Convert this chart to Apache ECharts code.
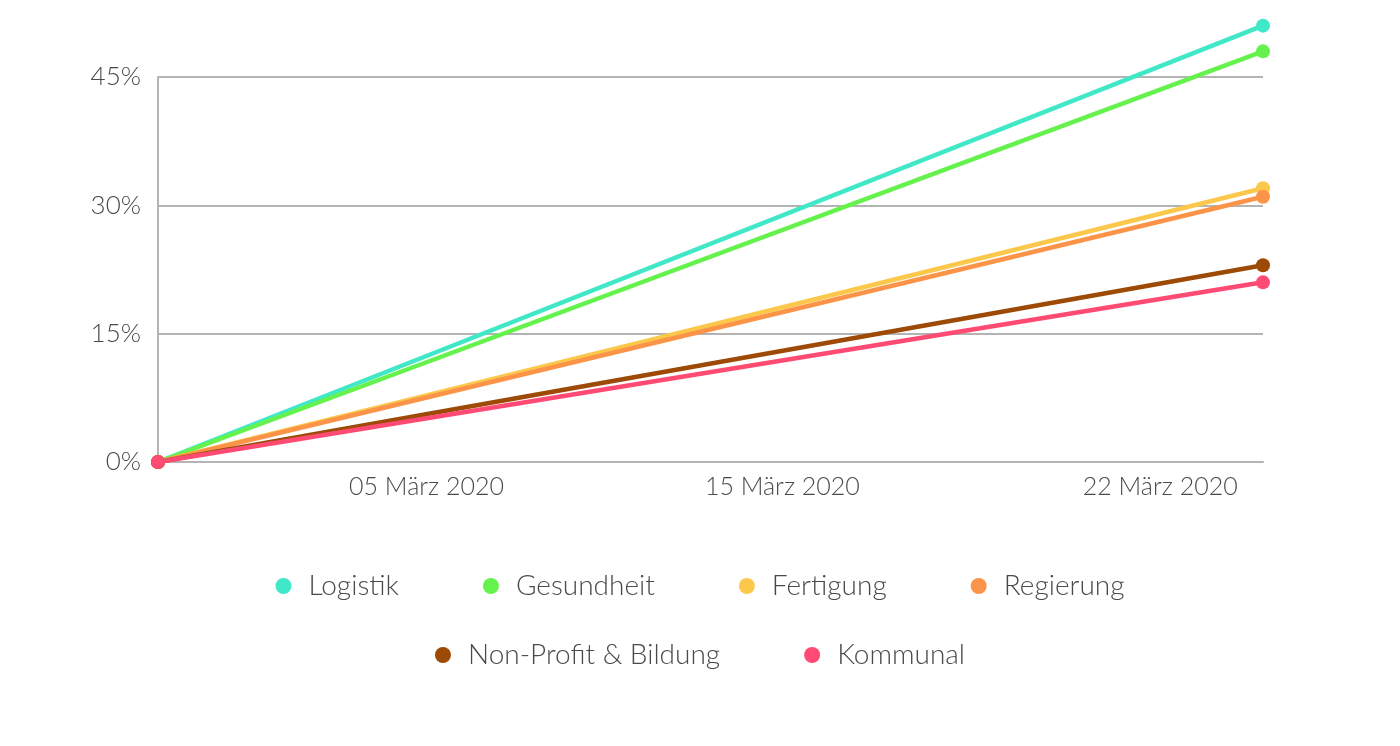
<!DOCTYPE html>
<html>
<head>
<meta charset="utf-8">
<script src="https://cdn.jsdelivr.net/npm/echarts@6/dist/echarts.min.js"></script>
<style>
  html, body { margin: 0; padding: 0; background: #fff; }
  #chart { width: 1400px; height: 746px; }
</style>
</head>
<body>
<div id="chart"></div>
<script>
// share of period (0 = start, 100 = end) and the values at both ends, in %
var periodX = [0, 100];
var names = ['Logistik', 'Gesundheit', 'Fertigung', 'Regierung', 'Non-Profit & Bildung', 'Kommunal'];
var colors = ['#40e8c8', '#66f24d', '#fcc84c', '#fb9448', '#9c4a06', '#ff4b73'];
var startValues = [0, 0, 0, 0, 0, 0];
var endValues = [51, 48, 32, 31, 23, 21];
var xTickPos = [24.3, 56.5, 90.7];
var xTickLabels = ['05 März 2020', '15 März 2020', '22 März 2020'];
var yTicks = [0, 15, 30, 45];

window.onload = function(){
  var chart = echarts.init(document.getElementById('chart'));
  var font = 'Lato';
  var textCol = '#4a4a4a';
  var gridCol = '#b4b4b4';

  var series = names.map(function(n, i){
    return {
      name: n,
      type: 'line',
      color: colors[i],
      clip: false,
      symbol: 'circle',
      symbolSize: 14,
      lineStyle: { width: 4.5 },
      data: [[periodX[0], startValues[i]], [periodX[1], endValues[i]]]
    };
  });

  var legendBase = {
    icon: 'circle',
    itemWidth: 40,
    itemHeight: 16,
    itemGap: 84,
    left: 'center',
    textStyle: { fontFamily: font, fontWeight: 300, fontSize: 28, color: textCol }
  };

  var opt = {
    animation: false,
    grid: { left: 158, right: 137, top: 77, bottom: 284 },
    legend: [
      Object.assign({}, legendBase, { top: 567, data: names.slice(0, 4) }),
      Object.assign({}, legendBase, { top: 636, data: names.slice(4) })
    ],
    xAxis: {
      type: 'value',
      min: 0,
      max: 100,
      splitLine: { show: false },
      axisTick: { show: false },
      axisLine: { lineStyle: { color: gridCol, width: 2 } },
      axisLabel: {
        customValues: xTickPos,
        margin: 12,
        fontFamily: font, fontWeight: 300, fontSize: 25, color: textCol,
        formatter: function(v){
          var k = xTickPos.indexOf(v);
          return k >= 0 ? xTickLabels[k] : '';
        }
      }
    },
    yAxis: {
      type: 'value',
      min: yTicks[0],
      max: yTicks[yTicks.length - 1],
      interval: 15,
      axisLine: { show: true, lineStyle: { color: gridCol, width: 2 } },
      axisTick: { show: false },
      splitLine: { lineStyle: { color: gridCol, width: 2 } },
      axisLabel: {
        margin: 17,
        padding: [7, 0, 0, 0],
        fontFamily: font, fontWeight: 300, fontSize: 26, color: textCol,
        formatter: '{value}%'
      }
    },
    series: series
  };

  chart.setOption(opt);
};
</script>
</body>
</html>
